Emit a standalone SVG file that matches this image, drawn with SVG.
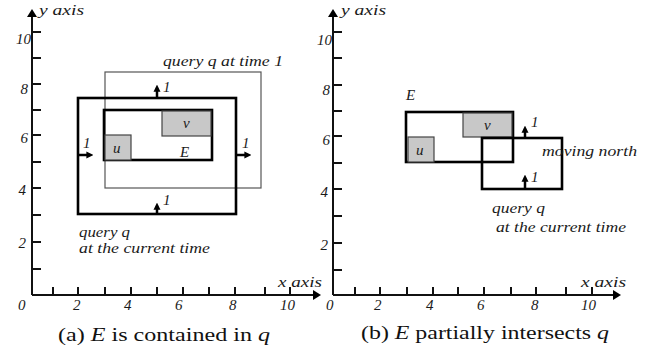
<svg xmlns="http://www.w3.org/2000/svg" width="659" height="349" viewBox="0 0 659 349">
<defs>
<style>
.t{font-family:"Liberation Serif","Times New Roman",serif;font-style:italic;font-size:15px;fill:#1a1a1a}
.n{font-family:"Liberation Serif","Times New Roman",serif;font-style:italic;font-size:15px;fill:#1a1a1a}
.cap{font-family:"Liberation Serif","Times New Roman",serif;font-size:19px;fill:#111}
.ax{stroke:#111;stroke-width:2;fill:none}
.tk{stroke:#111;stroke-width:2;fill:none}
.thick{fill:none;stroke:#000;stroke-width:2.6}
.thin{fill:none;stroke:#555;stroke-width:1.2}
.obj{fill:#c8c8c8;stroke:#444;stroke-width:1.2}
.arr{stroke:#000;stroke-width:2.5;fill:none;marker-end:url(#ah)}
</style>
<marker id="ah" viewBox="0 0 8 8" refX="3" refY="4" markerWidth="7" markerHeight="8" markerUnits="userSpaceOnUse" orient="auto">
<path d="M0,0 L8,4 L0,8 z" fill="#000"/>
</marker>
<marker id="axh" viewBox="0 0 8 10" refX="2" refY="5" markerWidth="8" markerHeight="10" markerUnits="userSpaceOnUse" orient="auto">
<path d="M0,0 L8,5 L0,10 z" fill="#000"/>
</marker>
</defs>
<rect width="659" height="349" fill="#fff"/>

<!-- Panel (a) -->
<g id="axes-a">
<path class="ax" d="M32,295 V15" marker-end="url(#axh)"/>
<path class="ax" d="M32,295 H315" marker-end="url(#axh)"/>
<path class="tk" d="M32,32 h9 M32,58 h9 M32,84 h9 M32,110 h9 M32,135 h9 M32,162 h9 M32,188 h9 M32,215 h9 M32,242 h9 M32,269 h9"/>
<path class="tk" d="M53,295 v-8 M78,295 v-8 M105,295 v-8 M131,295 v-8 M157,295 v-8 M183,295 v-8 M209,295 v-8 M235,295 v-8 M265,295 v-8 M290,295 v-8"/>
<text class="t" x="39" y="15" textLength="45" lengthAdjust="spacingAndGlyphs">y axis</text>
<text class="t" x="278" y="287" textLength="44" lengthAdjust="spacingAndGlyphs">x axis</text>
<text class="n" x="31" y="44" text-anchor="end">10</text>
<text class="n" x="28" y="94" text-anchor="end">8</text>
<text class="n" x="28" y="143" text-anchor="end">6</text>
<text class="n" x="26" y="195" text-anchor="end">4</text>
<text class="n" x="26" y="248" text-anchor="end">2</text>
<text class="n" x="18" y="310">0</text>
<text class="n" x="73" y="310">2</text>
<text class="n" x="124" y="310">4</text>
<text class="n" x="175" y="310">6</text>
<text class="n" x="229" y="310">8</text>
<text class="n" x="280" y="310">10</text>
</g>
<g id="query-time1-a">
<rect class="thin" x="105" y="72" width="156" height="116"/>
<text class="t" x="163" y="66" textLength="120" lengthAdjust="spacingAndGlyphs">query q at time 1</text>
</g>
<g id="query-a">
<rect class="thick" x="78" y="98" width="158" height="116"/>
<text class="t" x="79" y="237" textLength="51" lengthAdjust="spacingAndGlyphs">query q</text>
<text class="t" x="79" y="253" textLength="131" lengthAdjust="spacingAndGlyphs">at the current time</text>
</g>
<g id="E-a">
<rect class="thick" x="104" y="110" width="108" height="50"/>
<text class="t" x="180" y="157">E</text>
</g>
<g id="u-a">
<rect class="obj" x="105" y="135" width="26" height="25"/>
<text class="t" x="113" y="153">u</text>
</g>
<g id="v-a">
<rect class="obj" x="162" y="111" width="49" height="25"/>
<text class="t" x="183" y="128">v</text>
</g>
<g id="connectors-a">
<path class="arr" d="M157,98 V89"/>
<path class="arr" d="M78,155 H89"/>
<path class="arr" d="M236,155 H247"/>
<path class="arr" d="M157,214 V207"/>
<text class="t" x="163" y="92">1</text>
<text class="t" x="83" y="148">1</text>
<text class="t" x="242" y="148">1</text>
<text class="t" x="163" y="205">1</text>
</g>
<text class="cap" x="58" y="341" textLength="212" lengthAdjust="spacingAndGlyphs">(a) <tspan font-style="italic">E</tspan> is contained in <tspan font-style="italic">q</tspan></text>

<!-- Panel (b) -->
<g id="axes-b">
<path class="ax" d="M333,295 V15" marker-end="url(#axh)"/>
<path class="ax" d="M333,295 H615" marker-end="url(#axh)"/>
<path class="tk" d="M333,32 h9 M333,58 h9 M333,85 h9 M333,111 h9 M333,136 h9 M333,163 h9 M333,189 h9 M333,216 h9 M333,243 h9 M333,270 h9"/>
<path class="tk" d="M355,295 v-8 M380,295 v-8 M407,295 v-8 M433,295 v-8 M458,295 v-8 M484,295 v-8 M511,295 v-8 M536,295 v-8 M566,295 v-8 M592,295 v-8"/>
<text class="t" x="341" y="15" textLength="45" lengthAdjust="spacingAndGlyphs">y axis</text>
<text class="t" x="581" y="287" textLength="45" lengthAdjust="spacingAndGlyphs">x axis</text>
<text class="n" x="332" y="45" text-anchor="end">10</text>
<text class="n" x="330" y="95" text-anchor="end">8</text>
<text class="n" x="330" y="145" text-anchor="end">6</text>
<text class="n" x="328" y="197" text-anchor="end">4</text>
<text class="n" x="328" y="250" text-anchor="end">2</text>
<text class="n" x="326" y="310">0</text>
<text class="n" x="374" y="310">2</text>
<text class="n" x="426" y="310">4</text>
<text class="n" x="477" y="310">6</text>
<text class="n" x="531" y="310">8</text>
<text class="n" x="581" y="310">10</text>
</g>
<g id="E-b">
<rect class="thick" x="406" y="112" width="107" height="50"/>
<text class="t" x="406" y="100">E</text>
</g>
<g id="u-b">
<rect class="obj" x="408" y="137" width="26" height="25"/>
<text class="t" x="416" y="155">u</text>
</g>
<g id="v-b">
<rect class="obj" x="463" y="113" width="49" height="24"/>
<text class="t" x="484" y="130">v</text>
</g>
<g id="query-b">
<rect class="thick" x="482" y="138" width="80" height="51"/>
<text class="t" x="542" y="156" textLength="95" lengthAdjust="spacingAndGlyphs">moving north</text>
<text class="t" x="492" y="213" textLength="53" lengthAdjust="spacingAndGlyphs">query q</text>
<text class="t" x="496" y="232" textLength="130" lengthAdjust="spacingAndGlyphs">at the current time</text>
</g>
<g id="connectors-b">
<path class="arr" d="M525,138 V130"/>
<path class="arr" d="M525,189 V179"/>
<text class="t" x="531" y="127">1</text>
<text class="t" x="531" y="182">1</text>
</g>
<text class="cap" x="361" y="339" textLength="248" lengthAdjust="spacingAndGlyphs">(b) <tspan font-style="italic">E</tspan> partially intersects <tspan font-style="italic">q</tspan></text>
</svg>
